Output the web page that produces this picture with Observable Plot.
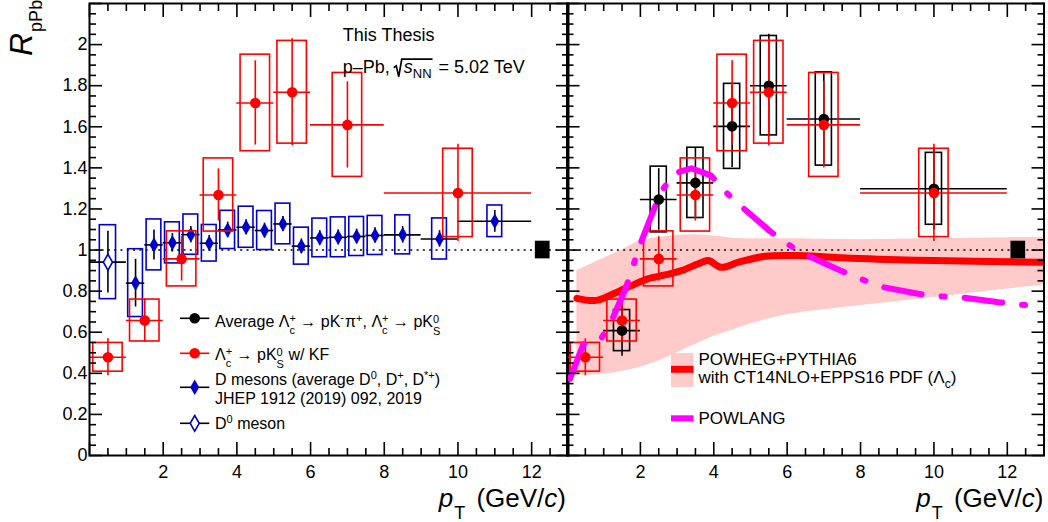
<!DOCTYPE html>
<html><head><meta charset="utf-8">
<script src="https://cdn.jsdelivr.net/npm/d3@7"></script>
<script src="https://cdn.jsdelivr.net/npm/@observablehq/plot@0.6"></script>
<style>
html,body{margin:0;padding:0;background:#fff;}
#wrap{position:relative;width:1048px;height:522px;overflow:hidden;}
#wrap svg{position:absolute;left:0;top:0;}
</style></head><body><div id="wrap"></div>
<script>
// ---------------- data ----------------
// Lambda_c -> p K0S w/ KF (red)
const kf_pt   = [0.5, 1.5, 2.5, 3.5, 4.5, 5.5, 7, 10];
const kf_xerr = [0.5, 0.5, 0.5, 0.5, 0.5, 0.5, 1, 2];
const kf_val  = [0.478, 0.657, 0.957, 1.268, 1.716, 1.768, 1.609, 1.278];
const kf_stat = [0.090, 0.105, 0.108, 0.127, 0.205, 0.260, 0.210, 0.237];
const kf_syst = [0.070, 0.102, 0.134, 0.178, 0.235, 0.250, 0.253, 0.215];

// Average Lambda_c (black)
const avg_pt   = [1.5, 2.5, 3.5, 4.5, 5.5, 7, 10];
const avg_xerr = [0.5, 0.5, 0.5, 0.5, 0.5, 1, 2];
const avg_val  = [0.608, 1.246, 1.327, 1.602, 1.800, 1.638, 1.298];
const avg_stat = [0.125, 0.150, 0.167, 0.200, 0.250, 0.220, 0.200];
const avg_syst = [0.100, 0.160, 0.171, 0.207, 0.242, 0.227, 0.175];

// D mesons average (blue filled diamonds)
const d_pt   = [1.25, 1.75, 2.25, 2.75, 3.25, 3.75, 4.25, 4.75, 5.25, 5.75, 6.25, 6.75, 7.25, 7.75, 8.5, 9.5, 11];
const d_xerr = [0.25, 0.25, 0.25, 0.25, 0.25, 0.25, 0.25, 0.25, 0.25, 0.25, 0.25, 0.25, 0.25, 0.25, 0.5, 0.5, 1];
const d_val  = [0.839, 1.025, 1.035, 1.075, 1.033, 1.098, 1.111, 1.095, 1.127, 1.019, 1.059, 1.062, 1.066, 1.071, 1.074, 1.054, 1.140];
const d_stat = [0.116, 0.073, 0.045, 0.040, 0.038, 0.038, 0.036, 0.036, 0.036, 0.035, 0.035, 0.036, 0.036, 0.037, 0.040, 0.040, 0.053];
const d_syst = [0.165, 0.124, 0.100, 0.098, 0.089, 0.093, 0.100, 0.095, 0.099, 0.090, 0.094, 0.097, 0.095, 0.095, 0.095, 0.100, 0.077];

// D0 meson (open diamond)
const d0_pt = [0.5], d0_xerr = [0.5], d0_val = [0.941], d0_stat = [0.150], d0_syst = [0.180];

// normalisation uncertainty box around unity
const norm_pt = [12.3], norm_unc = [0.043];

// POWHEG+PYTHIA6 band and central curve
const band_pt = [0.27, 1.0, 1.5, 2.0, 2.5, 3.0, 3.5, 4.0, 4.5, 5.0, 5.5, 6.0, 6.5, 7.0, 8.0, 9.0, 10.0, 11.0, 12.0, 13.0];
const band_lo = [0.390, 0.395, 0.410, 0.430, 0.460, 0.500, 0.540, 0.580, 0.610, 0.640, 0.665, 0.685, 0.700, 0.710, 0.730, 0.750, 0.770, 0.790, 0.810, 0.830];
const band_hi = [0.900, 0.960, 1.000, 1.045, 1.060, 1.072, 1.075, 1.068, 1.058, 1.055, 1.055, 1.055, 1.054, 1.052, 1.050, 1.052, 1.055, 1.058, 1.060, 1.062];
const powheg_pt  = [0.27, 0.8, 1.3, 1.76, 2.2, 2.67, 3.12, 3.58, 3.85, 4.2, 4.68, 5.4, 6.3, 6.76, 7.5, 8.5, 10, 11.5, 13];
const powheg_val = [0.765, 0.755, 0.790, 0.827, 0.860, 0.879, 0.900, 0.933, 0.949, 0.916, 0.941, 0.970, 0.973, 0.970, 0.962, 0.955, 0.949, 0.944, 0.941];

// POWLANG
const powlang_pt  = [0.08, 0.45, 0.9, 1.2, 1.61, 1.79, 1.98, 2.35, 2.57, 2.94, 3.39, 3.93, 4.3, 4.75, 5.53, 6.03, 6.51, 7.45, 8.0, 8.54, 9.57, 10.15, 10.74, 11.77, 12.35, 12.92];
const powlang_val = [0.373, 0.543, 0.560, 0.649, 0.819, 0.916, 1.020, 1.190, 1.286, 1.374, 1.398, 1.362, 1.286, 1.212, 1.092, 1.027, 0.977, 0.900, 0.860, 0.822, 0.787, 0.775, 0.770, 0.746, 0.735, 0.725];

// tick labels
const xTickLabels = [2, 4, 6, 8, 10, 12];
const yTickLabels = [0, 0.2, 0.4, 0.6, 0.8, 1, 1.2, 1.4, 1.6, 1.8, 2];

// ---------------- helpers ----------------
const FONT = '"Liberation Sans", Arial, Helvetica, sans-serif';
const RED = "#ff0000", BLUE = "#0000cc", BLACK = "#000000", MAG = "#ff00ff", PINK = "#ffcaca";

const rows = (pt, xerr, val, stat, syst) => pt.map((x, i) => ({
  x, xl: x - xerr[i], xh: x + xerr[i], y: val[i],
  yl: val[i] - stat[i], yh: val[i] + stat[i], sl: val[i] - syst[i], sh: val[i] + syst[i]
}));
const kfRows = rows(kf_pt, kf_xerr, kf_val, kf_stat, kf_syst);
const avgRows = rows(avg_pt, avg_xerr, avg_val, avg_stat, avg_syst);
const dRows = rows(d_pt, d_xerr, d_val, d_stat, d_syst);
const d0Rows = rows(d0_pt, d0_xerr, d0_val, d0_stat, d0_syst);
const normRows = norm_pt.map((x, i) => ({x, lo: 1 - norm_unc[i], hi: 1 + norm_unc[i]}));
const bandRows = band_pt.map((x, i) => ({x, lo: band_lo[i], hi: band_hi[i]}));
const powhegRows = powheg_pt.map((x, i) => ({x, y: powheg_val[i]}));
const powlangRows = powlang_pt.map((x, i) => ({x, y: powlang_val[i]}));

function series(data, boxHalf, boxColor, barColor, dot) {
  return [
    Plot.rect(data, {x1: d => d.x - boxHalf, x2: d => d.x + boxHalf, y1: "sl", y2: "sh", fill: "none", stroke: boxColor, strokeWidth: 1.6}),
    Plot.ruleY(data, {y: "y", x1: "xl", x2: "xh", stroke: barColor, strokeWidth: 1.6}),
    Plot.ruleX(data, {x: "x", y1: "yl", y2: "yh", stroke: barColor, strokeWidth: 1.6}),
    Plot.dot(data, {x: "x", y: "y", ...dot})
  ];
}

const majX = d3.range(0, 7).map(i => i * 2);
const minX = d3.range(1, 26).filter(i => i % 4 !== 0).map(i => i * 0.5);
const majY = d3.range(0, 12).map(i => +(i * 0.2).toFixed(2));
const minY = d3.range(1, 44).filter(i => i % 4 !== 0).map(i => +(i * 0.05).toFixed(3));

function ticks() {
  const o = {fill: "none", label: null, strokeWidth: 1.6};
  return [
    Plot.axisX(majX, {anchor: "bottom", tickSize: -13, ...o}),
    Plot.axisX(minX, {anchor: "bottom", tickSize: -7, ...o}),
    Plot.axisX(majX, {anchor: "top", tickSize: -13, ...o}),
    Plot.axisX(minX, {anchor: "top", tickSize: -7, ...o}),
    Plot.axisY(majY, {anchor: "left", tickSize: -13, ...o}),
    Plot.axisY(minY, {anchor: "left", tickSize: -7, ...o}),
    Plot.axisY(majY, {anchor: "right", tickSize: -13, ...o}),
    Plot.axisY(minY, {anchor: "right", tickSize: -7, ...o})
  ];
}
const xLabels = Plot.axisX(xTickLabels, {anchor: "bottom", tickSize: 0, tickPadding: 10, label: null, fontSize: 18, tickFormat: d => String(d)});

const common = {
  width: 1048, height: 522, marginTop: 3, marginBottom: 67,
  x: {domain: [0, 13]}, y: {domain: [0, 2.2]},
  style: {fontFamily: FONT, fontSize: "18px", background: "none", color: "#000"}
};

const unity = Plot.ruleY([1], {stroke: BLACK, strokeWidth: 1.5, strokeDasharray: "2,4.3"});
const normBox = Plot.rect(normRows, {x1: d => d.x - 0.2, x2: d => d.x + 0.2, y1: "lo", y2: "hi", fill: BLACK});

const left = Plot.plot({
  ...common, marginLeft: 89, marginRight: 480,
  marks: [
    unity,
    ...series(dRows, 0.2, BLUE, BLACK, {symbol: "diamond", r: 4.7, fill: BLUE}),
    ...series(d0Rows, 0.22, BLUE, BLACK, {symbol: "diamond", r: 4.8, fill: "white", stroke: BLUE, strokeWidth: 1.6}),
    ...series(kfRows, 0.4, RED, RED, {r: 5.3, fill: RED}),
    normBox,
    ...ticks(),
    xLabels,
    Plot.axisY(yTickLabels, {anchor: "left", tickSize: 0, tickPadding: 2, label: null, fontSize: 18, tickFormat: d => String(d)}),
    Plot.frame({stroke: BLACK, strokeWidth: 2})
  ]
});

const right = Plot.plot({
  ...common, marginLeft: 566.5, marginRight: 4.5,
  marks: [
    Plot.areaY(bandRows, {x: "x", y1: "lo", y2: "hi", fill: PINK, curve: "monotone-x", clip: true}),
    unity,
    Plot.line(powhegRows, {x: "x", y: "y", stroke: RED, strokeWidth: 7, curve: "catmull-rom", clip: true}),
    ...series(avgRows, 0.22, BLACK, BLACK, {r: 5.3, fill: BLACK}).slice(0, 3),
    ...series(kfRows, 0.4, RED, RED, {r: 5.3, fill: RED}).slice(0, 3),
    Plot.line(powlangRows, {x: "x", y: "y", stroke: MAG, strokeWidth: 6, strokeDasharray: "38,20,3,20", curve: "linear", clip: true}),
    Plot.dot(avgRows, {x: "x", y: "y", r: 5.3, fill: BLACK}),
    Plot.dot(kfRows, {x: "x", y: "y", r: 5.3, fill: RED}),
    normBox,
    ...ticks(),
    xLabels,
    Plot.frame({stroke: BLACK, strokeWidth: 2})
  ]
});

const wrap = document.getElementById("wrap");
wrap.appendChild(left);
wrap.appendChild(right);

// ---------------- overlay: titles, annotations, legends ----------------
const ov = d3.select("#wrap").append("svg").attr("width", 1048).attr("height", 522)
  .style("font-family", FONT).style("overflow", "visible");

function rich(x, y, parts, opt = {}) {
  const {size = 16, anchor = "start", rotate = 0, fill = "#000"} = opt;
  const g = ov.append("g");
  let cx = 0, prevX = 0;
  const pos = {};
  for (const p of parts) {
    if (p.gap) { if (p.id) pos[p.id] = [cx, cx + p.gap]; cx += p.gap; prevX = cx; continue; }
    let x0 = p.back ? prevX : cx;
    x0 += (p.dx || 0);
    const t = g.append("text")
      .attr("x", x0).attr("y", p.shift || 0)
      .attr("font-size", p.size || size)
      .attr("fill", p.fill || fill)
      .style("white-space", "pre")
      .text(p.t);
    if (p.italic) t.attr("font-style", "italic");
    const w = t.node().getComputedTextLength();
    cx = p.back ? Math.max(cx, x0 + w) : x0 + w;
    if (p.id) pos[p.id] = [x0, x0 + w];
    prevX = x0;
  }
  const off = anchor === "end" ? -cx : anchor === "middle" ? -cx / 2 : 0;
  g.attr("transform", `translate(${x},${y}) rotate(${rotate}) translate(${off},0)`);
  return {g, width: cx, pos};
}

// axis titles
rich(32, 56, [{t: "R", italic: true, size: 32}, {t: "pPb", size: 18, shift: 10, dx: 1}], {rotate: -90});
const ptTitle = [
  {t: "p", italic: true, size: 26}, {t: "T", size: 18, shift: 12, dx: 1},
  {t: " (GeV/", size: 26, dx: 4}, {t: "c", italic: true, size: 26}, {t: ")", size: 26}
];
rich(566, 507, ptTitle, {anchor: "end"});
rich(1043.5, 507, ptTitle, {anchor: "end"});

// annotation
rich(342.7, 40.7, [{t: "This Thesis"}], {size: 18});
const ann = rich(342.7, 72.7, [
  {t: "p–Pb, "}, {gap: 9, id: "rad"}, {t: "s", italic: true, size: 18},
  {t: "NN", size: 13, shift: 5, id: "nn"}, {t: " = 5.02 TeV", dx: 2}
], {size: 18});
{
  const rx = ann.pos.rad[0] - 1, ex = ann.pos.nn[1] + 1;
  ann.g.append("path")
    .attr("d", `M${rx},-5 L${rx + 2.5},-6.8 L${rx + 5},4 L${rx + 8},-13.5 L${ex},-13.5`)
    .attr("fill", "none").attr("stroke", "#000").attr("stroke-width", 1.7);
}

// left legend
const LX = 215, mx0 = 180, mx1 = 209.3, mxc = 194.7;
const lamC = [{t: "Λ"}, {t: "+", size: 11, shift: -5}, {t: "c", size: 11, shift: 7, back: true}];
const k0S = [{t: "0", size: 11, shift: -4}, {t: "S", size: 11, shift: 8, back: true}];
function legLine(y, color) {
  ov.append("line").attr("x1", mx0).attr("x2", mx1).attr("y1", y).attr("y2", y)
    .attr("stroke", color).attr("stroke-width", 1.6);
}
legLine(318.3, BLACK);
ov.append("circle").attr("cx", mxc).attr("cy", 318.3).attr("r", 5.3).attr("fill", BLACK);
rich(LX, 326.7, [{t: "Average "}, ...lamC, {t: " → pK"}, {t: "-", size: 11, shift: -6}, {t: "π", dx: 1},
  {t: "+", size: 11, shift: -5}, {t: ", "}, ...lamC, {t: " → pK"}, ...k0S]);
legLine(353.3, RED);
ov.append("circle").attr("cx", mxc).attr("cy", 353.3).attr("r", 5.3).attr("fill", RED);
rich(LX, 360, [...lamC, {t: " → pK"}, ...k0S, {t: " w/ KF"}]);
legLine(387.3, BLACK);
const diamond = d3.symbol(d3.symbolDiamond, 70);
ov.append("path").attr("d", diamond()).attr("transform", `translate(${mxc},387.3)`).attr("fill", BLUE);
rich(LX, 384.5, [{t: "D mesons (average D"}, {t: "0", size: 11, shift: -6}, {t: ", D"}, {t: "+", size: 11, shift: -6},
  {t: ", D"}, {t: "*+", size: 11, shift: -6}, {t: ")"}]);
rich(LX, 403.5, [{t: "JHEP 1912 (2019) 092, 2019"}]);
legLine(423.3, BLACK);
ov.append("path").attr("d", diamond()).attr("transform", `translate(${mxc},423.3)`)
  .attr("fill", "white").attr("stroke", BLUE).attr("stroke-width", 1.6);
rich(LX, 428.5, [{t: "D"}, {t: "0", size: 11, shift: -6}, {t: " meson"}]);

// right legend
ov.append("rect").attr("x", 671).attr("y", 353).attr("width", 22.5).attr("height", 34).attr("fill", PINK);
ov.append("line").attr("x1", 671).attr("x2", 693.5).attr("y1", 369.3).attr("y2", 369.3)
  .attr("stroke", RED).attr("stroke-width", 7);
rich(698.5, 364.5, [{t: "POWHEG+PYTHIA6"}], {size: 17});
rich(698.5, 382.5, [{t: "with CT14NLO+EPPS16 PDF ("}, {t: "Λ"}, {t: "c", size: 12, shift: 5}, {t: ")"}], {size: 17});
ov.append("line").attr("x1", 671).attr("x2", 693.5).attr("y1", 418.3).attr("y2", 418.3)
  .attr("stroke", MAG).attr("stroke-width", 6);
rich(698.5, 424, [{t: "POWLANG"}], {size: 17});
</script></body></html>
